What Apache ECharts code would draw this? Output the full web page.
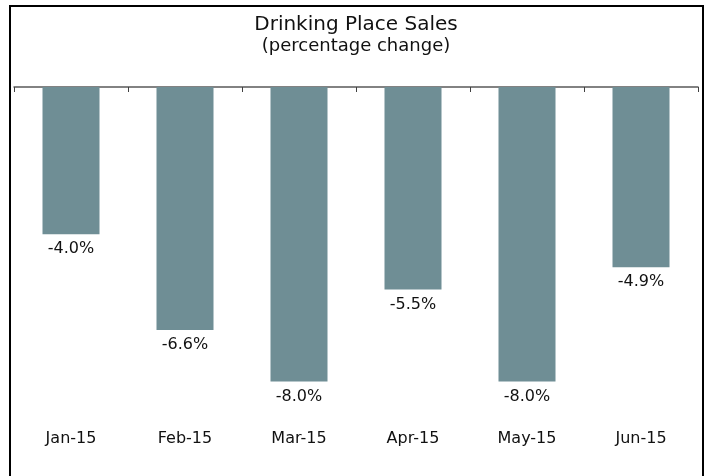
<!DOCTYPE html>
<html>
<head>
<meta charset="utf-8">
<script src="https://cdn.jsdelivr.net/npm/echarts@6/dist/echarts.min.js"></script>
<style>
  body { margin: 0; background: #fff; }
  #main { width: 712px; height: 476px; }
</style>
</head>
<body>
<div id="main"></div>
<script>
const months = ['Jan-15', 'Feb-15', 'Mar-15', 'Apr-15', 'May-15', 'Jun-15']
const sales = [-4.0, -6.6, -8.0, -5.5, -8.0, -4.9]

const font = 'DejaVu Sans'
const chart = echarts.init(document.getElementById('main'))

let option = {
  backgroundColor: '#fff',
  animation: false,
  title: {
    text: 'Drinking Place Sales',
    subtext: '(percentage change)',
    left: 'center',
    top: 10,
    itemGap: 2,
    textStyle: { fontFamily: font, fontSize: 20, fontWeight: 'normal', color: '#111' },
    subtextStyle: { fontFamily: font, fontSize: 18, color: '#111' }
  },
  // outer frame (no bottom edge visible in the picture)
  graphic: [{
    type: 'rect',
    shape: { x: 10, y: 6, width: 693, height: 490 },
    style: { fill: 'none', stroke: '#000', lineWidth: 2 },
    silent: true
  }],
  grid: { left: 14, right: 14, top: 87, bottom: 94.6 },
  xAxis: [
    {
      type: 'category',
      data: months,
      position: 'top',
      axisLine: { show: true, lineStyle: { color: '#595959', width: 1.5 } },
      axisTick: { show: true, inside: true, length: 5, interval: 0, lineStyle: { color: '#404040', width: 1 } },
      axisLabel: { show: false }
    },
    {
      type: 'category',
      data: months,
      position: 'bottom',
      axisLine: { show: false },
      axisTick: { show: false },
      axisLabel: { margin: 49, fontFamily: font, fontSize: 16, color: '#111' }
    }
  ],
  yAxis: {
    type: 'value',
    min: -8,
    max: 0,
    show: false,
    splitLine: { show: false }
  },
  series: [
    {
      type: 'bar',
      data: sales,
      barWidth: '50%',
      itemStyle: { color: '#6F8E95' },
      label: {
        show: true,
        position: 'bottom',
        distance: 7,
        fontFamily: font,
        fontSize: 16,
        color: '#111',
        formatter: p => p.value.toFixed(1) + '%'
      }
    }
  ]
}

chart.setOption(option)
</script>
</body>
</html>
